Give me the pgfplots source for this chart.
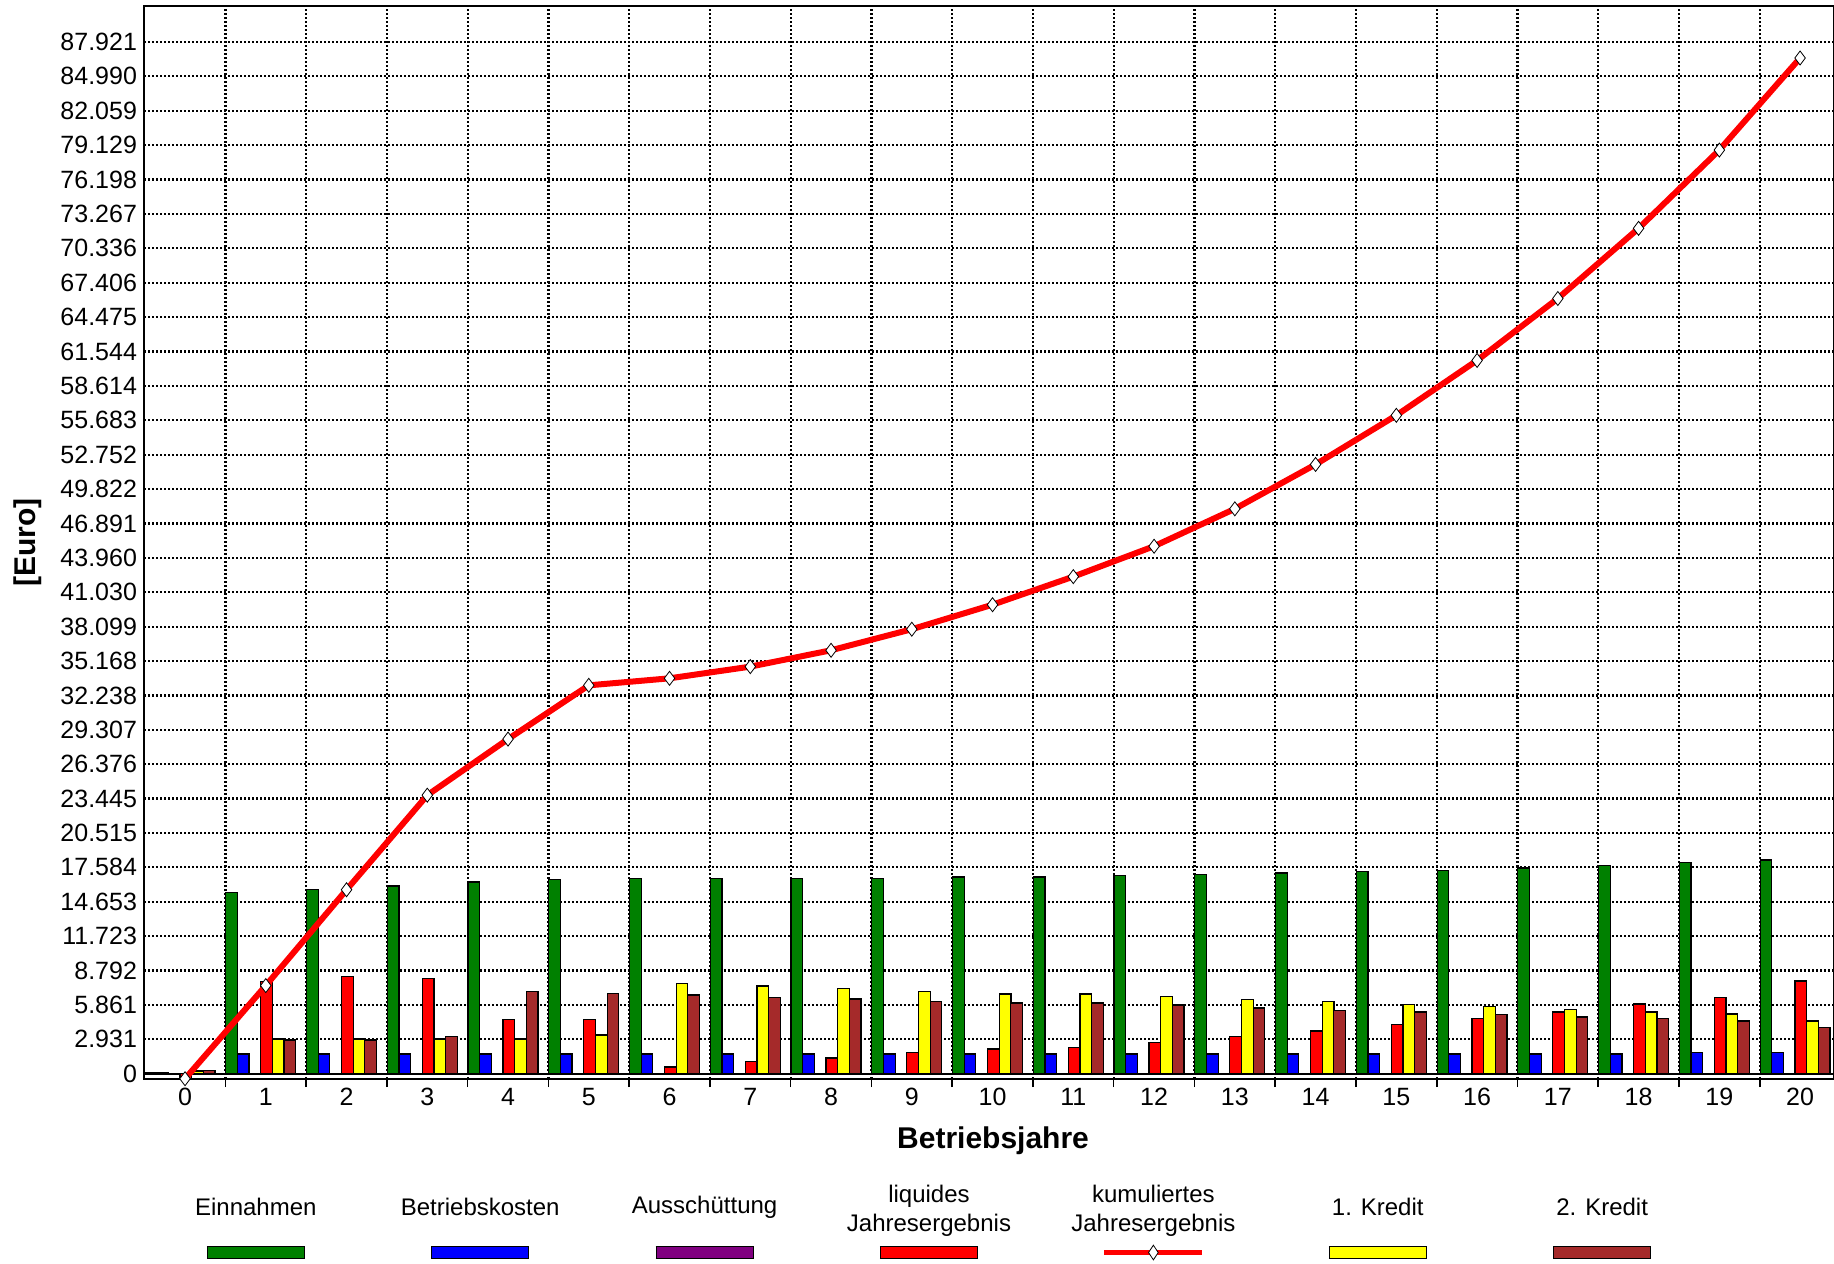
\documentclass[border=0pt]{standalone}
\usepackage{pgfplots}
\pgfplotsset{compat=1.18}
\usepackage{fontspec}
\setmainfont{Liberation Sans}
\usetikzlibrary{shapes.geometric}

\definecolor{cgreen}{RGB}{0,128,0}
\definecolor{cblue}{RGB}{0,0,255}
\definecolor{cpurple}{RGB}{128,0,128}
\definecolor{cred}{RGB}{255,0,0}
\definecolor{cyellow}{RGB}{255,255,0}
\definecolor{cbrown}{RGB}{165,42,42}

\setlength{\fboxsep}{0pt}
\setlength{\fboxrule}{0.5pt}
\newcommand\swatch[1]{\fcolorbox{black}{#1}{\rule{0pt}{5.5pt}\hspace{48pt}}}
\newcommand\lineswatch{\tikz[baseline=-2.5pt]{%
  \draw[cred, line width=2.8pt] (0,0) -- (49pt,0);
  \node[diamond, draw=black, fill=white, line width=0.4pt, inner sep=0pt,
        minimum width=5pt, minimum height=7.5pt] at (24.5pt,0) {};}}
\newcommand\legcell[2]{\begin{tabular}{@{}c@{}}%
  \parbox[c][30pt][c]{108.2pt}{\centering\fontsize{12}{14.6}\selectfont #1}\\[3.2pt]#2%
  \end{tabular}}

\begin{document}
\begin{tikzpicture}
\begin{axis}[
    at={(0,0)}, anchor=south west,
    scale only axis,
    width=845pt, height=536.5pt,
    xmin=-0.508, xmax=20.42,
    ymin=-450, ymax=90988,
    axis line style={line width=1.2pt},
    xtick={0,...,20},
    minor xtick={0.5,1.5,...,19.5},
    ytick={0,2930.686,...,87925},
    yticklabels={0,2.931,5.861,8.792,11.723,14.653,17.584,20.515,23.445,26.376,29.307,32.238,35.168,38.099,41.030,43.960,46.891,49.822,52.752,55.683,58.614,61.544,64.475,67.406,70.336,73.267,76.198,79.129,82.059,84.990,87.921},
    scaled y ticks=false,
    extra y ticks={0},
    extra y tick labels={},
    extra y tick style={grid=major, major grid style={solid, black, line width=1pt}},
    /pgf/number format/assume math mode=true,
    ticklabel style={font=\fontsize{12.5}{14}\selectfont},
    xticklabel style={yshift=-1pt},
    tick align=outside,
    major tick length=0pt,
    minor tick length=4pt,
    tick style={black, line width=0.8pt},
    xtick pos=bottom, ytick pos=left,
    ymajorgrids, xminorgrids,
    major grid style={black, line width=1.1pt, dash pattern=on 1pt off 1pt},
    minor grid style={black, line width=1.1pt, dash pattern=on 1pt off 1pt},
    xlabel={Betriebsjahre},
    ylabel={[Euro]},
    xlabel style={at={(axis description cs:0.5024,-0.0573)}, anchor=center,
                  font=\bfseries\fontsize{15}{18}\selectfont},
    ylabel style={at={(axis description cs:-0.0690,0.5)}, anchor=center, rotate=0,
                  font=\bfseries\fontsize{15}{18}\selectfont},
    legend image code/.code={},
    legend columns=7,
    legend style={draw=none, fill=none, inner sep=0pt,
                  at={(axis description cs:0.4645,-0.0907)}, anchor=north,
                  /tikz/every odd column/.style={column sep=0pt},
                  /tikz/every even column/.style={column sep=0pt},
                  cells={anchor=center, inner sep=0pt}},
  ]
  % Einnahmen
  \addplot[forget plot, ybar, bar width=0.1444, bar shift=-0.423, fill=cgreen, draw=black, line width=0.6pt]
    coordinates {(0,120) (1,15449) (2,15676) (3,15989) (4,16330) (5,16558) (6,16643) (7,16643)
      (8,16643) (9,16643) (10,16757) (11,16757) (12,16899) (13,16985) (14,17098) (15,17212)
      (16,17298) (17,17525) (18,17753) (19,17980) (20,18208)};
  % Betriebskosten
  \addplot[forget plot, ybar, bar width=0.1444, bar shift=-0.279, fill=cblue, draw=black, line width=0.6pt]
    coordinates {(0,120) (1,1679) (2,1679) (3,1679) (4,1679) (5,1679) (6,1679) (7,1679)
      (8,1679) (9,1679) (10,1679) (11,1679) (12,1679) (13,1679) (14,1679) (15,1679)
      (16,1679) (17,1679) (18,1679) (19,1792) (20,1792)};
  % Ausschuettung
  \addplot[forget plot, ybar, bar width=0.1444, bar shift=-0.134, fill=cpurple, draw=black, line width=0.6pt]
    coordinates {(0,0) (1,0) (2,0) (3,0) (4,0) (5,0) (6,0) (7,0) (8,0) (9,0) (10,0)
      (11,0) (12,0) (13,0) (14,0) (15,0) (16,0) (17,0) (18,0) (19,0) (20,0)};
  % liquides Jahresergebnis
  \addplot[forget plot, ybar, bar width=0.1444, bar shift=0.01, fill=cred, draw=black, line width=0.6pt]
    coordinates {(0,-430) (1,7881) (2,8251) (3,8137) (4,4609) (5,4609) (6,569) (7,1024)
      (8,1337) (9,1792) (10,2105) (11,2219) (12,2674) (13,3186) (14,3642) (15,4211)
      (16,4723) (17,5263) (18,5946) (19,6515) (20,7909)};
  % 1. Kredit
  \addplot[forget plot, ybar, bar width=0.1444, bar shift=0.155, fill=cyellow, draw=black, line width=0.6pt]
    coordinates {(0,230) (1,2959) (2,2959) (3,2959) (4,2959) (5,3300) (6,7682) (7,7482)
      (8,7255) (9,7027) (10,6800) (11,6800) (12,6600) (13,6344) (14,6145) (15,5918)
      (16,5718) (17,5491) (18,5263) (19,5093) (20,4495)};
  % 2. Kredit
  \addplot[forget plot, ybar, bar width=0.1444, bar shift=0.299, fill=cbrown, draw=black, line width=0.6pt]
    coordinates {(0,250) (1,2873) (2,2873) (3,3186) (4,7027) (5,6828) (6,6714) (7,6487)
      (8,6373) (9,6145) (10,6031) (11,6031) (12,5861) (13,5605) (14,5406) (15,5263)
      (16,5064) (17,4837) (18,4723) (19,4495) (20,3955)};
  % kumuliertes Jahresergebnis
  \addplot[forget plot, cred, line width=3pt, mark=diamond*, mark size=3.5pt,
           mark options={solid, fill=white, draw=black, line width=0.4pt}]
    coordinates {(0,-430) (1,7511) (2,15675) (3,23735) (4,28515) (5,33097) (6,33695)
      (7,34690) (8,36085) (9,37878) (10,39969) (11,42360) (12,44950) (13,48137)
      (14,51922) (15,56105) (16,60786) (17,66065) (18,72041) (19,78714) (20,86557)};

  \addlegendimage{empty legend}\addlegendentry{\legcell{Einnahmen\vspace{3.5pt}}{\swatch{cgreen}}}
  \addlegendimage{empty legend}\addlegendentry{\legcell{Betriebskosten\vspace{3.5pt}}{\swatch{cblue}}}
  \addlegendimage{empty legend}\addlegendentry{\legcell{Ausschüttung\vspace{3.5pt}}{\swatch{cpurple}}}
  \addlegendimage{empty legend}\addlegendentry{\legcell{liquides\\Jahresergebnis}{\swatch{cred}}}
  \addlegendimage{empty legend}\addlegendentry{\legcell{kumuliertes\\Jahresergebnis}{\lineswatch}}
  \addlegendimage{empty legend}\addlegendentry{\legcell{1. Kredit\vspace{3.5pt}}{\swatch{cyellow}}}
  \addlegendimage{empty legend}\addlegendentry{\legcell{2. Kredit\vspace{3.5pt}}{\swatch{cbrown}}}
\end{axis}
\pgfresetboundingbox
\path[use as bounding box] (-72pt,-92pt) rectangle (845pt,539.5pt);
\end{tikzpicture}
\end{document}
